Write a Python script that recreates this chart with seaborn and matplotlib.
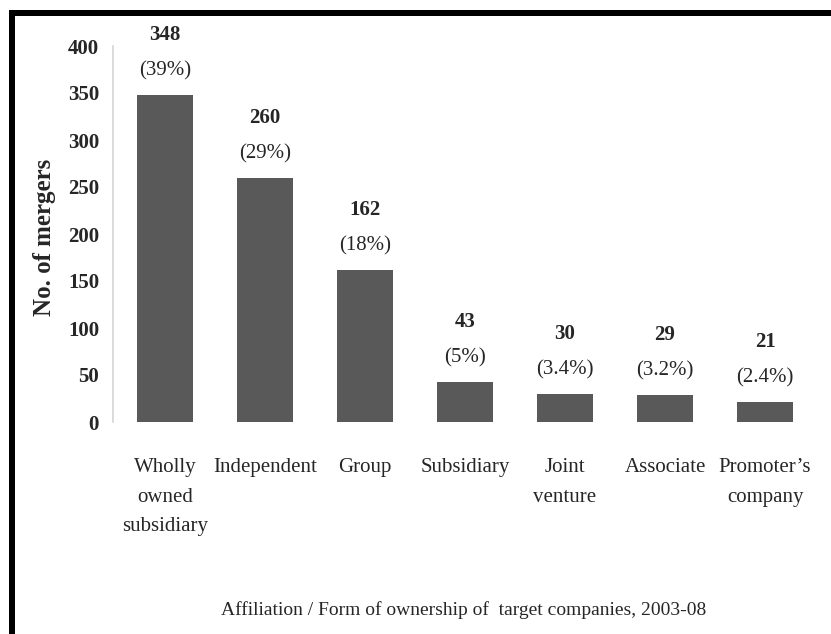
import matplotlib
matplotlib.use("Agg")
import matplotlib.pyplot as plt
from matplotlib.lines import Line2D
import seaborn as sns
import pandas as pd

# Affiliation of target companies in mergers, 2003-08
categories = ["Wholly\nowned\nsubsidiary", "Independent", "Group", "Subsidiary",
              "Joint\nventure", "Associate", "Promoter\u2019s\ncompany"]
mergers = [348, 260, 162, 43, 30, 29, 21]
share_pct = [39, 29, 18, 5, 3.4, 3.2, 2.4]
y_ticks = [0, 50, 100, 150, 200, 250, 300, 350, 400]

df = pd.DataFrame({"affiliation": categories, "mergers": mergers})

sns.set_style("white")
plt.rcParams["font.family"] = ["Liberation Serif", "DejaVu Serif"]

W, H = 831, 634
fig = plt.figure(figsize=(W / 100, H / 100), dpi=100)
fig.patch.set_facecolor("white")

ax_left, ax_right, ax_top, ax_bottom = 113, 815, 46, 422
ax = fig.add_axes([ax_left / W, 1 - ax_bottom / H,
                   (ax_right - ax_left) / W, (ax_bottom - ax_top) / H])

bar_color = "#595959"
sns.barplot(data=df, x="affiliation", y="mergers", color=bar_color,
            saturation=1, width=0.56, ax=ax, edgecolor="none")

ax.set_xlim(-0.52, 6.5)
ax.set_ylim(0, 400)
ax.set_yticks(y_ticks)
ax.set_yticklabels([str(t) for t in y_ticks], fontsize=15, fontweight="bold")
ax.tick_params(axis="y", length=0, pad=10)
ax.tick_params(axis="x", length=0, pad=26, labelsize=15)
for lbl in ax.get_xticklabels():
    lbl.set_linespacing(1.75)

for side in ["top", "right", "bottom"]:
    ax.spines[side].set_visible(False)
ax.spines["left"].set_color("#d4d4d4")
ax.spines["left"].set_linewidth(1.2)

# value and share labels above each bar
for i, (v, p) in enumerate(zip(mergers, share_pct)):
    ax.annotate(f"({p:g}%)", xy=(i, v), xytext=(0, 24), textcoords="offset pixels",
                ha="center", va="center", fontsize=15)
    ax.annotate(f"{v}", xy=(i, v), xytext=(0, 60), textcoords="offset pixels",
                ha="center", va="center", fontsize=15, fontweight="bold")

ax.set_ylabel("No. of mergers", fontsize=18, fontweight="bold")
ax.yaxis.set_label_coords((45 - ax_left) / (ax_right - ax_left), 0.49)
ax.yaxis.label.set_va("center")

ax.set_xlabel("Affiliation / Form of ownership of  target companies, 2003-08",
              fontsize=14)
ax.xaxis.set_label_coords(0.5, (ax_bottom - 610) / (ax_bottom - ax_top))
ax.xaxis.label.set_va("center")

# frame lines along the top and left edges
lw = 6 * 72 / 100
fig.add_artist(Line2D([9 / W, 1], [1 - 13 / H, 1 - 13 / H], color="black",
                      linewidth=lw, solid_capstyle="butt"))
fig.add_artist(Line2D([12 / W, 12 / W], [0, 1 - 10 / H], color="black",
                      linewidth=lw, solid_capstyle="butt"))

fig.savefig("out.png", dpi=100, facecolor="white")
